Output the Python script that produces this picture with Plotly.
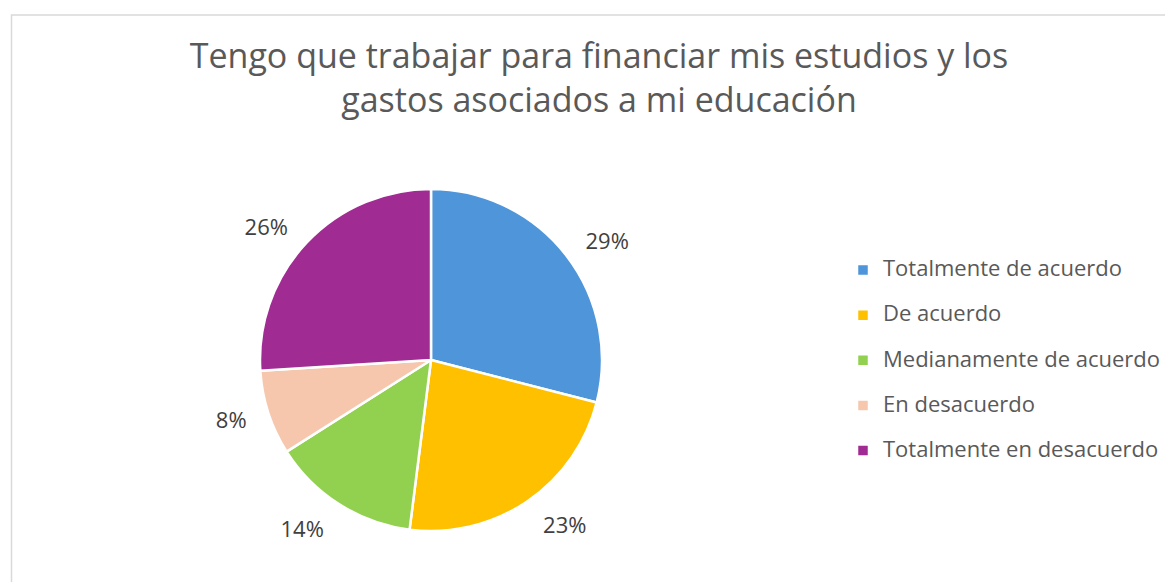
import plotly.graph_objects as go

categories = ["Totalmente de acuerdo", "De acuerdo", "Medianamente de acuerdo",
              "En desacuerdo", "Totalmente en desacuerdo"]
values = [29, 23, 14, 8, 26]
colors = ["#4E95D9", "#FFC000", "#92D050", "#F6C7AD", "#A02B93"]
title_text = "Tengo que trabajar para financiar mis estudios y los<br>gastos asociados a mi educación"

W, H = 1173, 582
CX, CY, R = 423, 352, 171   # pie centre / radius in figure pixels
R2 = 186                    # radius of the invisible label carrier


def dom(r):
    return dict(x=[(CX - r) / W, (CX + r) / W], y=[(H - CY - r) / H, (H - CY + r) / H])


legend_labels = ["<span style='font-size:22px'>" + c + "</span><br> " for c in categories]

fig = go.Figure()
fig.add_trace(go.Pie(
    labels=legend_labels,
    values=values,
    sort=False,
    direction="clockwise",
    rotation=0,
    marker=dict(colors=colors, line=dict(color="white", width=2.5)),
    textinfo="none",
    domain=dom(R),
    hoverinfo="label+percent",
))
fig.add_trace(go.Pie(
    labels=legend_labels,
    values=values,
    sort=False,
    direction="clockwise",
    rotation=0,
    marker=dict(colors=["rgba(0,0,0,0)"] * len(values), line=dict(width=0)),
    texttemplate="%{percent:.0%}",
    textposition="outside",
    textfont=dict(family="Open Sans", size=22, color="#404040"),
    domain=dom(R2),
    hoverinfo="skip",
    showlegend=False,
    automargin=False,
))

fig.update_layout(
    width=W, height=H,
    margin=dict(l=0, r=0, t=0, b=0),
    paper_bgcolor="white",
    font=dict(family="Open Sans", color="#595959"),
    title=dict(text=title_text, x=591 / W, xanchor="center", y=1 - 60 / H, yanchor="top",
               font=dict(family="Open Sans", size=34, color="#595959")),
    legend=dict(x=835 / W, xanchor="left", y=1 - 245 / H, yanchor="top",
                font=dict(family="Open Sans", size=16.2, color="#595959"),
                valign="top", itemwidth=30, bgcolor="rgba(0,0,0,0)"),
    shapes=[dict(type="rect", xref="paper", yref="paper",
                 x0=3.5 / W, x1=1.02, y0=-0.05, y1=1 - 7 / H,
                 line=dict(color="#D9D9D9", width=1.5), fillcolor="rgba(0,0,0,0)",
                 layer="below")],
)

fig.write_html("out.html")
